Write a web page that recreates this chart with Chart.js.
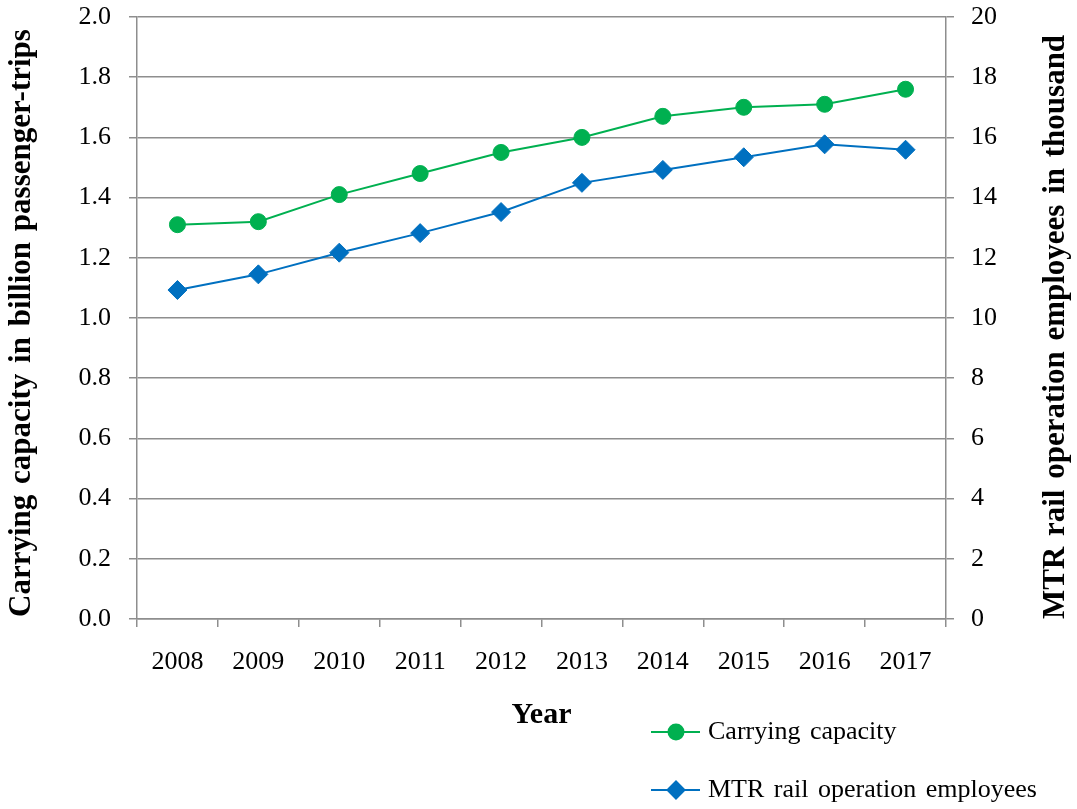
<!DOCTYPE html>
<html>
<head>
<meta charset="utf-8">
<title>Carrying capacity and MTR rail operation employees, 2008–2017</title>
<script src="https://cdn.jsdelivr.net/npm/chart.js@4/dist/chart.umd.min.js"></script>
<style>
  html, body { margin: 0; padding: 0; background: #ffffff; }
  #wrap { position: relative; width: 1077px; height: 809px; }
</style>
</head>
<body>
<div id="wrap"><canvas id="chart"></canvas></div>
<script>
// Years on the category axis
const years = ['2008', '2009', '2010', '2011', '2012', '2013', '2014', '2015', '2016', '2017'];
// Carrying capacity, billion passenger-trips (left axis)
const carryingCapacity = [1.31, 1.32, 1.41, 1.48, 1.55, 1.60, 1.67, 1.70, 1.71, 1.76];
// MTR rail operation employees, thousand (right axis)
const employees = [10.93, 11.45, 12.17, 12.82, 13.52, 14.49, 14.92, 15.34, 15.77, 15.59];

const seriesNames = ['Carrying capacity', 'MTR rail operation employees'];
const leftTitle = 'Carrying capacity in billion passenger-trips';
const rightTitle = 'MTR rail operation employees in thousand';
const xTitle = 'Year';

const GREEN = '#00B050';
const BLUE = '#0070C0';
const GRID = '#8e8e8e';
const SERIF = '"Liberation Serif", "Times New Roman", serif';

// Rotated axis titles (both read bottom-to-top) and the stacked legend
const decorations = {
  id: 'decorations',
  afterDraw(chart) {
    const ctx = chart.ctx;
    const area = chart.chartArea;
    const drawUpTitle = (text, cx, cy) => {
      ctx.save();
      ctx.translate(cx, cy);
      ctx.rotate(-Math.PI / 2);
      ctx.font = 'bold 31px ' + SERIF;
      ctx.fillStyle = '#000';
      ctx.textAlign = 'center';
      ctx.textBaseline = 'middle';
      if ('wordSpacing' in ctx) ctx.wordSpacing = '3px';
      ctx.fillText(text, 0, 0);
      ctx.restore();
    };
    const midY = (area.top + area.bottom) / 2;
    drawUpTitle(leftTitle, 22, midY + 5);
    drawUpTitle(rightTitle, 1056, midY + 9);

    // Legend: one entry per row, below the plot on the right
    const rows = [732, 790];
    chart.data.datasets.forEach((ds, i) => {
      const y = rows[i];
      ctx.save();
      ctx.strokeStyle = ds.borderColor;
      ctx.lineWidth = 2;
      ctx.beginPath();
      ctx.moveTo(651, y);
      ctx.lineTo(700, y);
      ctx.stroke();
      ctx.fillStyle = ds.pointBackgroundColor;
      ctx.strokeStyle = ds.pointBorderColor;
      Chart.helpers.drawPoint(ctx, {
        pointStyle: ds.pointStyle,
        radius: ds.pointStyle === 'circle' ? 7.5 : 8.5,
        rotation: 0,
        borderWidth: 1
      }, 676, y);
      ctx.font = '26px ' + SERIF;
      ctx.fillStyle = '#000';
      ctx.textAlign = 'left';
      ctx.textBaseline = 'middle';
      if ('wordSpacing' in ctx) ctx.wordSpacing = '3px';
      ctx.fillText(ds.label, 708, y);
      ctx.restore();
    });
  }
};

// Fixed axis widths; end-label overflow is already covered by layout padding
const fixWidth = (w) => (scale) => {
  scale.width = w;
  scale.paddingTop = 0;
  scale.paddingBottom = 0;
};

new Chart(document.getElementById('chart'), {
  type: 'line',
  data: {
    labels: years,
    datasets: [
      {
        label: seriesNames[0],
        data: carryingCapacity,
        yAxisID: 'y',
        borderColor: GREEN,
        backgroundColor: GREEN,
        pointBackgroundColor: GREEN,
        pointBorderColor: GREEN,
        borderWidth: 2,
        pointStyle: 'circle',
        pointRadius: 8,
        pointBorderWidth: 1,
        tension: 0
      },
      {
        label: seriesNames[1],
        data: employees,
        yAxisID: 'y1',
        borderColor: BLUE,
        backgroundColor: BLUE,
        pointBackgroundColor: BLUE,
        pointBorderColor: BLUE,
        borderWidth: 2,
        pointStyle: 'rectRot',
        pointRadius: 9.5,
        pointBorderWidth: 1,
        tension: 0
      }
    ]
  },
  options: {
    responsive: true,
    maintainAspectRatio: false,
    animation: false,
    layout: { padding: { top: 17, bottom: 70, left: 0, right: 0 } },
    plugins: {
      legend: { display: false },
      tooltip: { enabled: false }
    },
    scales: {
      x: {
        type: 'category',
        offset: true,
        grid: {
          offset: true,
          drawOnChartArea: false,
          drawTicks: true,
          tickLength: 8,
          color: GRID,
          lineWidth: 1.5
        },
        border: { display: true, color: GRID, width: 1.5 },
        ticks: {
          color: '#000',
          font: { family: SERIF, size: 26 },
          padding: 20,
          maxRotation: 0,
          autoSkip: false
        },
        title: {
          display: true,
          text: xTitle,
          color: '#000',
          font: { family: SERIF, size: 30, weight: 'bold' },
          padding: { top: 0, bottom: 6 }
        },
        afterFit(scale) { scale.height = 120; }
      },
      y: {
        position: 'left',
        min: 0,
        max: 2.0,
        grid: {
          color: GRID,
          lineWidth: 1.5,
          tickLength: 8,
          drawTicks: true
        },
        border: { display: true, color: GRID, width: 1.5 },
        ticks: {
          stepSize: 0.2,
          color: '#000',
          font: { family: SERIF, size: 26 },
          padding: 18,
          callback: (v) => Number(v).toFixed(1)
        },
        afterFit: fixWidth(137)
      },
      y1: {
        position: 'right',
        min: 0,
        max: 20,
        grid: {
          drawOnChartArea: false,
          color: GRID,
          lineWidth: 1.5,
          tickLength: 8,
          drawTicks: true
        },
        border: { display: true, color: GRID, width: 1.5 },
        ticks: {
          stepSize: 2,
          color: '#000',
          font: { family: SERIF, size: 26 },
          padding: 17
        },
        afterFit: fixWidth(131)
      }
    }
  },
  plugins: [decorations]
});
</script>
</body>
</html>
